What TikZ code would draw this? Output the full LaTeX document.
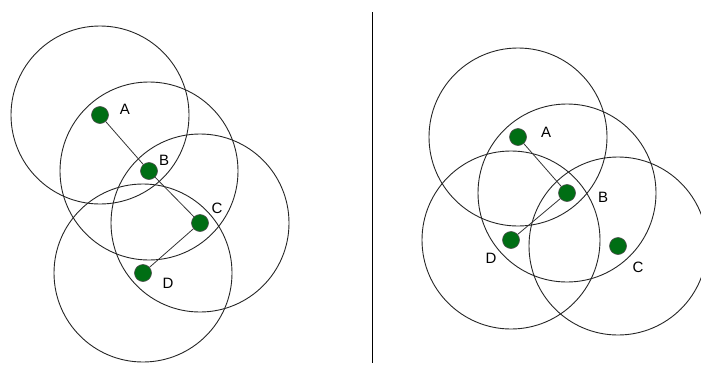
\documentclass[tikz,border=0pt]{standalone}
\usepackage{fontspec}
\setmainfont{Liberation Sans}
\definecolor{dotgreen}{RGB}{0,110,20}
\begin{document}
\begin{tikzpicture}[x=1pt,y=-1pt,
  dot/.style={circle,fill=dotgreen,draw=black!70,line width=0.6pt,minimum size=17pt,inner sep=0pt},
  rangecircle/.style={draw=black!85,line width=0.9pt},
  link/.style={draw=black!80,line width=0.8pt},
  lab/.style={font=\fontsize{15}{18}\selectfont,inner sep=0pt}]
\useasboundingbox (0,0) rectangle (701,367);
% left panel
\node[dot] (lA) at (100,115) {};
\node[dot] (lB) at (149,171) {};
\node[dot] (lC) at (200,223) {};
\node[dot] (lD) at (143,273) {};
\foreach \n in {lA,lB,lC,lD} \draw[rangecircle] (\n) circle (89);
\draw[link] (lA) -- (lB);
\draw[link] (lB) -- (lC);
\draw[link] (lC) -- (lD);
\node[lab] (tA) at (125,109) {A};
\node[lab] (tB) at (164,160) {B};
\node[lab] (tC) at (217,208) {C};
\node[lab] (tD) at (168,283) {D};
% separator
\coordinate (s1) at (372,12);
\coordinate (s2) at (372,363);
\draw[line width=1pt] (s1) -- (s2);
% right panel
\node[dot] (rA) at (518,137) {};
\node[dot] (rB) at (567,193) {};
\node[dot] (rD) at (511,240) {};
\node[dot] (rC) at (618,246) {};
\foreach \n in {rA,rB,rC,rD} \draw[rangecircle] (\n) circle (89);
\draw[link] (rA) -- (rB);
\draw[link] (rB) -- (rD);
\node[lab] (uA) at (546,132) {A};
\node[lab] (uB) at (603,197) {B};
\node[lab] (uD) at (491,258) {D};
\node[lab] (uC) at (638,267) {C};
\end{tikzpicture}
\end{document}
